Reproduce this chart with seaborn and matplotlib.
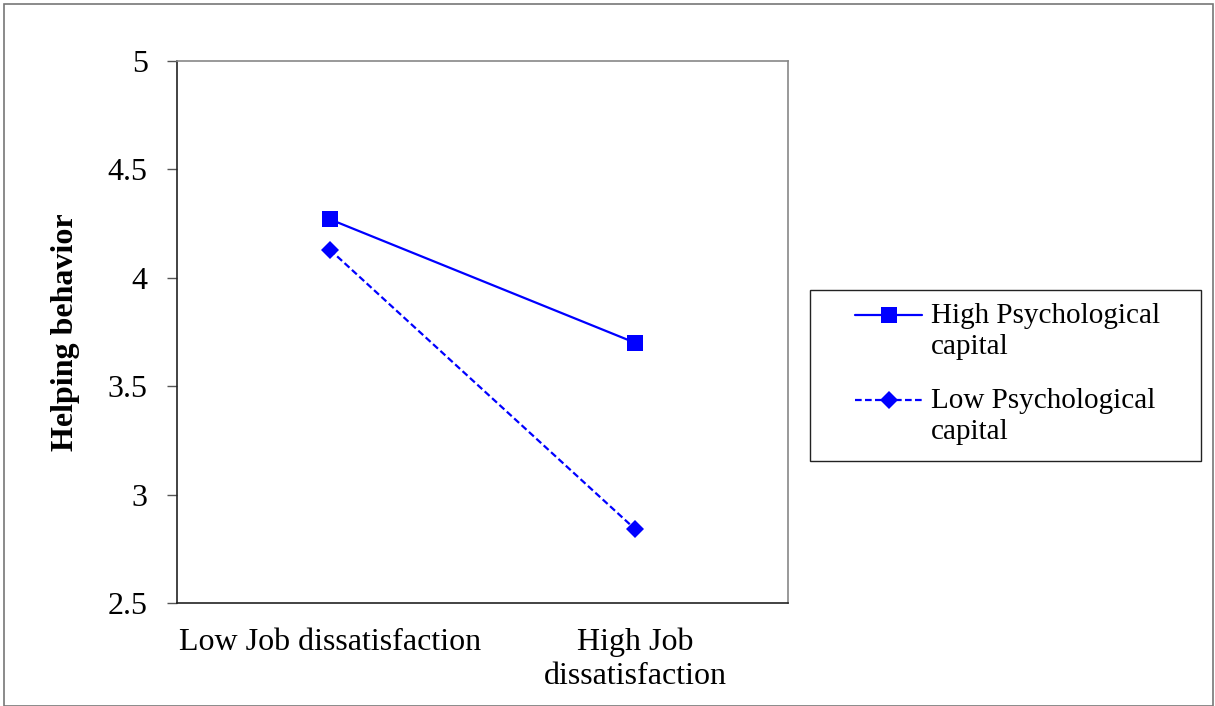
import numpy as np
import pandas as pd
import matplotlib.pyplot as plt
import seaborn as sns
from matplotlib.lines import Line2D
from matplotlib.patches import Rectangle
from matplotlib.legend_handler import HandlerLine2D

# data
conditions = ['Low Job dissatisfaction', 'High Job\ndissatisfaction']
high_capital = [4.27, 3.70]
low_capital = [4.13, 2.84]
groups = ['High Psychological\ncapital', 'Low Psychological\ncapital']

df = pd.DataFrame({
    'condition': conditions * 2,
    'helping': high_capital + low_capital,
    'group': [groups[0]] * 2 + [groups[1]] * 2,
})
df['x'] = [0, 1, 0, 1]

sns.set_style('white')
plt.rcParams['font.family'] = ['Liberation Serif', 'DejaVu Serif']

fig = plt.figure(figsize=(12.15, 7.06), dpi=100)
ax = fig.add_axes([0.1457, 0.1459, 0.5029, 0.7677])

sns.lineplot(data=df, x='x', y='helping', hue='group', style='group',
             palette=['#0000ff', '#0000ff'], markers=['s', 'D'],
             dashes=[(None, None), (3, 1.5)], markersize=11, linewidth=1.6,
             markeredgewidth=0, ax=ax, legend=False)

# diamond a bit smaller than the square
ax.lines[1].set_markersize(9)

ax.set_xlim(-0.5, 1.5)
ax.set_ylim(2.5, 5)
ax.set_yticks([2.5, 3, 3.5, 4, 4.5, 5])
ax.set_yticklabels(['2.5', '3', '3.5', '4', '4.5', '5'], fontsize=23, color='black')
ax.set_xticks([0, 1])
ax.set_xticklabels(conditions, fontsize=23, linespacing=1.2, color='black')
ax.set_xticks([-0.5, 0.5, 1.5], minor=True)
ax.tick_params(axis='x', which='major', length=0, pad=18)
ax.tick_params(axis='x', which='minor', length=8, width=1, color='#333333', direction='out')
ax.tick_params(axis='y', length=7, width=1, color='#555555', direction='out', pad=14, left=True)
ax.set_xlabel('')
ax.set_ylabel('Helping behavior', fontsize=23, fontweight='bold', labelpad=20, color='black')

for side in ['left', 'bottom']:
    ax.spines[side].set_color('#222222')
    ax.spines[side].set_linewidth(1.2)
for side in ['top', 'right']:
    ax.spines[side].set_color('#888888')
    ax.spines[side].set_linewidth(1.2)


# legend handles sit on the first line of each two-line label
class TopLineHandler(HandlerLine2D):
    def create_artists(self, legend, orig_handle, xdescent, ydescent, width, height,
                       fontsize, trans):
        artists = super().create_artists(legend, orig_handle, xdescent, ydescent,
                                         width, height, fontsize, trans)
        for a in artists:
            a.set_ydata(np.asarray(a.get_ydata()) + 11.5)
        return artists


handles = [
    Line2D([], [], color='#0000ff', lw=1.6, marker='s', markersize=11, markeredgewidth=0),
    Line2D([], [], color='#0000ff', lw=1.6, ls=(0, (3, 1.5)), marker='D', markersize=9, markeredgewidth=0),
]
leg = fig.legend(handles, groups, loc='upper left', bbox_to_anchor=(0.7037, 0.571),
                 fontsize=21, frameon=False, handlelength=2.3, borderpad=0,
                 labelspacing=0.95, borderaxespad=0, handletextpad=0.3,
                 handler_map={Line2D: TopLineHandler()})
for t in leg.get_texts():
    t.set_color('black')
    t.set_linespacing(1.25)

# legend box drawn separately (wider left padding than matplotlib gives)
fig.patches.append(Rectangle((0.6667, 0.347), 0.3218, 0.2422, transform=fig.transFigure,
                             fill=False, edgecolor='#222222', linewidth=1))

# outer border of the chart
fig.patches.append(Rectangle((0.003, 0.0), 0.995, 0.994, transform=fig.transFigure,
                             fill=False, edgecolor='#777777', linewidth=1.2))

fig.savefig('out.png', dpi=100)
